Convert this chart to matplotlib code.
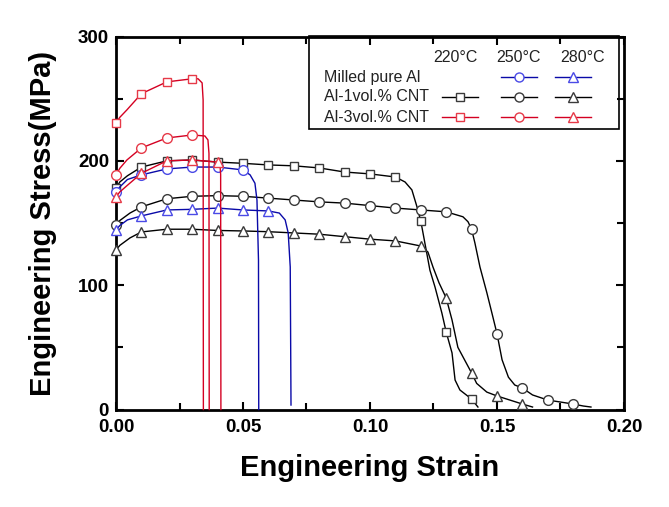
import numpy as np
import matplotlib.pyplot as plt
from matplotlib.ticker import MultipleLocator, FormatStrFormatter
from matplotlib.patches import Rectangle

plt.rcParams['font.family'] = ['Liberation Sans', 'DejaVu Sans']

# stress-strain curves (strain, MPa)
# markers sit on the points at whole 0.01 strain steps
pure_250_x = [0, 0.0015, 0.0045, 0.01, 0.02, 0.03, 0.04, 0.05, 0.0528, 0.0547, 0.0555, 0.0561, 0.0562]
pure_250_y = [175, 179, 185, 188.7, 193.5, 195, 195, 192.7, 188.7, 182, 168.5, 120, 0]

pure_280_x = [0, 0.0015, 0.0045, 0.01, 0.02, 0.03, 0.04, 0.05, 0.06, 0.0643, 0.0666, 0.0678, 0.0686, 0.0689]
pure_280_y = [144.4, 148, 152.5, 155.7, 160.5, 161, 162, 160.5, 159.7, 158, 152.5, 142, 114.6, 3.6]

cnt1_220_x = [0, 0.0015, 0.0045, 0.01, 0.02, 0.03, 0.04, 0.05, 0.06, 0.07, 0.08, 0.09, 0.10, 0.11,
              0.1138, 0.1165, 0.1185, 0.12, 0.1236, 0.1256, 0.1283, 0.13, 0.1323, 0.1335, 0.1354, 0.14, 0.1425]
cnt1_220_y = [178, 183, 188, 195, 200, 200.7, 199, 198, 196.7, 196, 194.3, 191, 189.5, 187,
              183, 176.6, 163, 151.6, 112, 98.5, 77.6, 62.3, 45.5, 23.7, 15.7, 8.4, 2]

cnt1_250_x = [0, 0.0015, 0.0055, 0.01, 0.02, 0.03, 0.04, 0.05, 0.06, 0.07, 0.08, 0.09, 0.10, 0.11, 0.12, 0.13,
              0.1366, 0.1386, 0.14, 0.1413, 0.1433, 0.146, 0.148, 0.15, 0.152, 0.1545, 0.157, 0.16, 0.164,
              0.17, 0.18, 0.184, 0.187]
cnt1_250_y = [148, 152, 158, 163, 169.5, 171.5, 172, 171.5, 170, 168.5, 167, 166, 164, 162, 160.5, 159,
              155, 151, 145, 134, 114.6, 94, 77.6, 61, 40, 26, 19.7, 17.3, 11.7,
              7.6, 4.4, 2.8, 2]

cnt1_280_x = [0, 0.0015, 0.0055, 0.01, 0.02, 0.03, 0.04, 0.05, 0.06, 0.07, 0.08, 0.09, 0.10, 0.11, 0.12,
              0.1228, 0.1248, 0.1272, 0.13, 0.1323, 0.1346, 0.14, 0.142, 0.146, 0.15, 0.16, 0.164]
cnt1_280_y = [128.3, 132, 138, 142.8, 145, 145, 144, 143.6, 143, 142, 141, 139, 137, 135.6, 131.5,
              126.7, 114.6, 101.8, 89.7, 72, 50, 29.4, 21, 14, 10.9, 4.4, 2]

cnt3_220_x = [0, 0.0015, 0.0043, 0.01, 0.02, 0.03, 0.0323, 0.0339, 0.0343, 0.0344]
cnt3_220_y = [230.5, 235, 241, 254, 263.5, 266, 266, 262.7, 249, 0]

cnt3_250_x = [0, 0.0015, 0.0043, 0.01, 0.02, 0.03, 0.035, 0.0362, 0.0366, 0.0367]
cnt3_250_y = [188.7, 194, 200.7, 210.4, 218.4, 220.8, 220, 216.8, 206, 0]

cnt3_280_x = [0, 0.0015, 0.0043, 0.01, 0.02, 0.03, 0.04, 0.0409, 0.0412, 0.0413]
cnt3_280_y = [171, 175, 180, 190, 200, 200.7, 199, 198, 189, 0]

row_labels = ['Milled pure Al', 'Al-1vol.% CNT', 'Al-3vol.% CNT']
temps = ['220\u00b0C', '250\u00b0C', '280\u00b0C']

BLACK, BLACK_M = 'black', '#3a3a3a'
BLUE, BLUE_M = '#0a0aa8', '#4a4ae6'
RED, RED_M = '#d40022', '#e63a48'
MARKS = {'220': ('s', 6), '250': ('o', 7), '280': ('^', 7.5)}

series = [
    (cnt1_220_x, cnt1_220_y, BLACK, BLACK_M, '220'),
    (cnt1_250_x, cnt1_250_y, BLACK, BLACK_M, '250'),
    (cnt1_280_x, cnt1_280_y, BLACK, BLACK_M, '280'),
    (pure_250_x, pure_250_y, BLUE, BLUE_M, '250'),
    (pure_280_x, pure_280_y, BLUE, BLUE_M, '280'),
    (cnt3_220_x, cnt3_220_y, RED, RED_M, '220'),
    (cnt3_250_x, cnt3_250_y, RED, RED_M, '250'),
    (cnt3_280_x, cnt3_280_y, RED, RED_M, '280'),
]


def marker_idx(x):
    return [i for i, v in enumerate(x) if abs(v * 100 - round(v * 100)) < 1e-6]


fig = plt.figure(figsize=(6.69, 5.07), dpi=100)
ax = fig.add_axes([0.1734, 0.1923, 0.7593, 0.7357])

for x, y, lc, mc, t in series:
    m, ms = MARKS[t]
    ax.plot(x, y, color=lc, lw=1.0, marker=m, ms=ms, mfc='white', mec=mc, mew=1.0,
            markevery=marker_idx(x), clip_on=False, zorder=3)

ax.set_xlim(0, 0.20)
ax.set_ylim(0, 300)
ax.xaxis.set_major_locator(MultipleLocator(0.05))
ax.xaxis.set_minor_locator(MultipleLocator(0.025))
ax.yaxis.set_major_locator(MultipleLocator(100))
ax.yaxis.set_minor_locator(MultipleLocator(50))
ax.xaxis.set_major_formatter(FormatStrFormatter('%.2f'))
ax.yaxis.set_major_formatter(FormatStrFormatter('%d'))
ax.tick_params(which='both', direction='in', top=True, right=True, width=1.5)
ax.tick_params(which='major', length=6, labelsize=13.5)
ax.tick_params(axis='x', which='major', pad=7)
ax.tick_params(axis='y', which='major', pad=5)
ax.tick_params(which='minor', length=5)
for lab in ax.get_xticklabels() + ax.get_yticklabels():
    lab.set_fontweight('bold')
for s in ax.spines.values():
    s.set_linewidth(2.0)

ax.set_xlabel('Engineering Strain', fontsize=21, fontweight='bold', labelpad=13)
ax.set_ylabel('Engineering Stress(MPa)', fontsize=21, fontweight='bold', labelpad=15)

# hand-built table legend in the upper right corner
ax.add_patch(Rectangle((0.38, 0.752), 0.611, 0.25, transform=ax.transAxes, fill=False,
                       lw=1.2, ec='black', zorder=4, clip_on=False))
head_x = [0.668, 0.792, 0.918]
col_x = [0.677, 0.793, 0.900]
row_y = [0.891, 0.838, 0.784]
for hx, t in zip(head_x, temps):
    ax.text(hx, 0.945, t, transform=ax.transAxes, ha='center', va='center', fontsize=11.5, color='#222222')
for ry, lab in zip(row_y, row_labels):
    ax.text(0.409, ry, lab, transform=ax.transAxes, ha='left', va='center', fontsize=11.5, color='#222222')

legend_cells = [
    (0, 1, BLUE, BLUE_M, '250'), (0, 2, BLUE, BLUE_M, '280'),
    (1, 0, BLACK, BLACK_M, '220'), (1, 1, BLACK, BLACK_M, '250'), (1, 2, BLACK, BLACK_M, '280'),
    (2, 0, RED, RED_M, '220'), (2, 1, RED, RED_M, '250'), (2, 2, RED, RED_M, '280'),
]
half = 0.036
for r, c, lc, mc, t in legend_cells:
    m, ms = MARKS[t]
    cx, cy = col_x[c], row_y[r]
    ax.plot([cx - half, cx + half], [cy, cy], color=lc, lw=1.0, transform=ax.transAxes,
            clip_on=False, zorder=5)
    ax.plot([cx], [cy], marker=m, ms=ms - 0.5, mfc='white', mec=mc, mew=1.0, transform=ax.transAxes,
            clip_on=False, zorder=6)

fig.savefig('out.png', dpi=100)
